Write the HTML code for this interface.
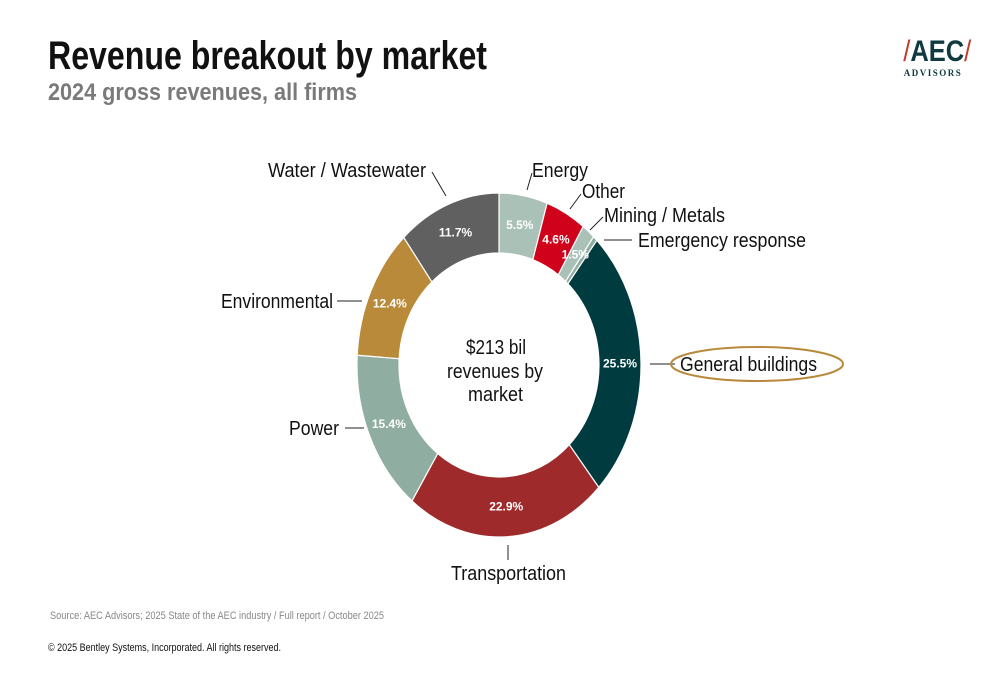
<!DOCTYPE html>
<html><head><meta charset="utf-8"><style>
body{margin:0;width:1000px;height:685px;background:#fff;overflow:hidden;font-family:"Liberation Sans",sans-serif;position:relative}
.t{position:absolute;white-space:nowrap}
</style></head><body>
<div class="t" style="left:898px;top:36px;width:70px;text-align:center">
 <div style="font-family:'Liberation Sans',sans-serif;font-weight:bold;font-size:30px;color:#0f3a40;line-height:32px;transform:scaleX(0.85)"><span style="color:#c0392b;font-weight:normal">/</span>AEC<span style="color:#c0392b;font-weight:normal">/</span></div>
 <div style="font-family:'Liberation Serif',serif;font-size:9px;letter-spacing:1.5px;color:#0f3a40;font-weight:bold">ADVISORS</div>
</div>
<svg id="chart" width="1000" height="685" style="position:absolute;left:0;top:0" font-family="Liberation Sans, sans-serif">
<text x="48" y="69" font-size="40" font-weight="bold" fill="#111" textLength="439" lengthAdjust="spacingAndGlyphs">Revenue breakout by market</text>
<text x="48" y="100" font-size="24" font-weight="bold" fill="#7a7a7a" textLength="309" lengthAdjust="spacingAndGlyphs">2024 gross revenues, all firms</text>
<g id="slices"></g><g id="pct"></g>
<text x="466" y="354" font-size="20" fill="#111" textLength="60" lengthAdjust="spacingAndGlyphs">$213 bil</text>
<text x="447" y="378" font-size="20" fill="#111" textLength="96" lengthAdjust="spacingAndGlyphs">revenues by</text>
<text x="468" y="401" font-size="20" fill="#111" textLength="55" lengthAdjust="spacingAndGlyphs">market</text>
<g stroke="#222" stroke-width="1" fill="none">
<line x1="432" y1="172" x2="446" y2="196"/><line x1="527" y1="190" x2="532" y2="173"/><line x1="570" y1="209" x2="581" y2="194"/>
<line x1="590" y1="230" x2="603" y2="217"/><line x1="604" y1="240" x2="632" y2="240"/><line x1="650" y1="364" x2="675" y2="364"/>
<line x1="337" y1="301" x2="362" y2="301"/><line x1="345" y1="428" x2="364" y2="428"/><line x1="508" y1="545" x2="508" y2="560"/>
</g>
<g font-size="20" fill="#111" lengthAdjust="spacingAndGlyphs">
<text x="268" y="177" textLength="158" lengthAdjust="spacingAndGlyphs">Water / Wastewater</text>
<text x="532" y="177" textLength="56" lengthAdjust="spacingAndGlyphs">Energy</text>
<text x="582" y="198" textLength="43" lengthAdjust="spacingAndGlyphs">Other</text>
<text x="604" y="222" textLength="121" lengthAdjust="spacingAndGlyphs">Mining / Metals</text>
<text x="638" y="247" textLength="168" lengthAdjust="spacingAndGlyphs">Emergency response</text>
<text x="680" y="371" textLength="137" lengthAdjust="spacingAndGlyphs">General buildings</text>
<text x="221" y="308" textLength="112" lengthAdjust="spacingAndGlyphs">Environmental</text>
<text x="289" y="435" textLength="50" lengthAdjust="spacingAndGlyphs">Power</text>
<text x="451" y="580" textLength="115" lengthAdjust="spacingAndGlyphs">Transportation</text>
</g>
<ellipse cx="757" cy="364" rx="86" ry="17" fill="none" stroke="#b8893a" stroke-width="2"/>
<text x="50" y="619" font-size="11" fill="#888" textLength="334" lengthAdjust="spacingAndGlyphs">Source: AEC Advisors; 2025 State of the AEC industry / Full report / October 2025</text>
<text x="48" y="651" font-size="11" fill="#111" textLength="233" lengthAdjust="spacingAndGlyphs">© 2025 Bentley Systems, Incorporated. All rights reserved.</text>
</svg>
<script>
const categories=["Energy","Other","Mining / Metals","Emergency response","General buildings","Transportation","Power","Environmental","Water / Wastewater"];
const values=[5.5,4.6,1.5,0.5,25.5,22.9,15.4,12.4,11.7];
const pctLabels=["5.5%","4.6%","1.5%","","25.5%","22.9%","15.4%","12.4%","11.7%"];
const colors=["#a9c1b7","#d0021b","#a9c1b7","#8fada0","#003b40","#9e2a2b","#8fada0","#b98a3a","#606060"];
const cx=499,cy=365,RX=142,RY=172,rx=100,ry=112;
const total=values.reduce((a,b)=>a+b,0);
function pt(frac,ax,ay){const a=frac*2*Math.PI;return [cx+ax*Math.sin(a),cy-ay*Math.cos(a)];}
const ns="http://www.w3.org/2000/svg";
let acc=0;
values.forEach((v,i)=>{
 const f0=acc/total,f1=(acc+v)/total;acc+=v;
 const large=(f1-f0)>0.5?1:0;
 const [x0,y0]=pt(f0,RX,RY),[x1,y1]=pt(f1,RX,RY),[x2,y2]=pt(f1,rx,ry),[x3,y3]=pt(f0,rx,ry);
 const p=document.createElementNS(ns,"path");
 p.setAttribute("d",`M${x0},${y0}A${RX},${RY} 0 ${large} 1 ${x1},${y1}L${x2},${y2}A${rx},${ry} 0 ${large} 0 ${x3},${y3}Z`);
 p.setAttribute("fill",colors[i]);p.setAttribute("stroke","#fff");p.setAttribute("stroke-width","1.2");
 
 
 document.getElementById("slices").appendChild(p);
 if(pctLabels[i]){
  const [tx,ty]=pt((f0+f1)/2,(RX+rx)/2,(RY+ry)/2);
  const t=document.createElementNS(ns,"text");
  t.setAttribute("x",tx);t.setAttribute("y",ty+4);t.setAttribute("text-anchor","middle");
  t.setAttribute("font-size","12");t.setAttribute("font-weight","bold");t.setAttribute("fill","#fff");
  t.textContent=pctLabels[i];
  
  
  document.getElementById("pct").appendChild(t);
 }
});
</script>
</body></html>
